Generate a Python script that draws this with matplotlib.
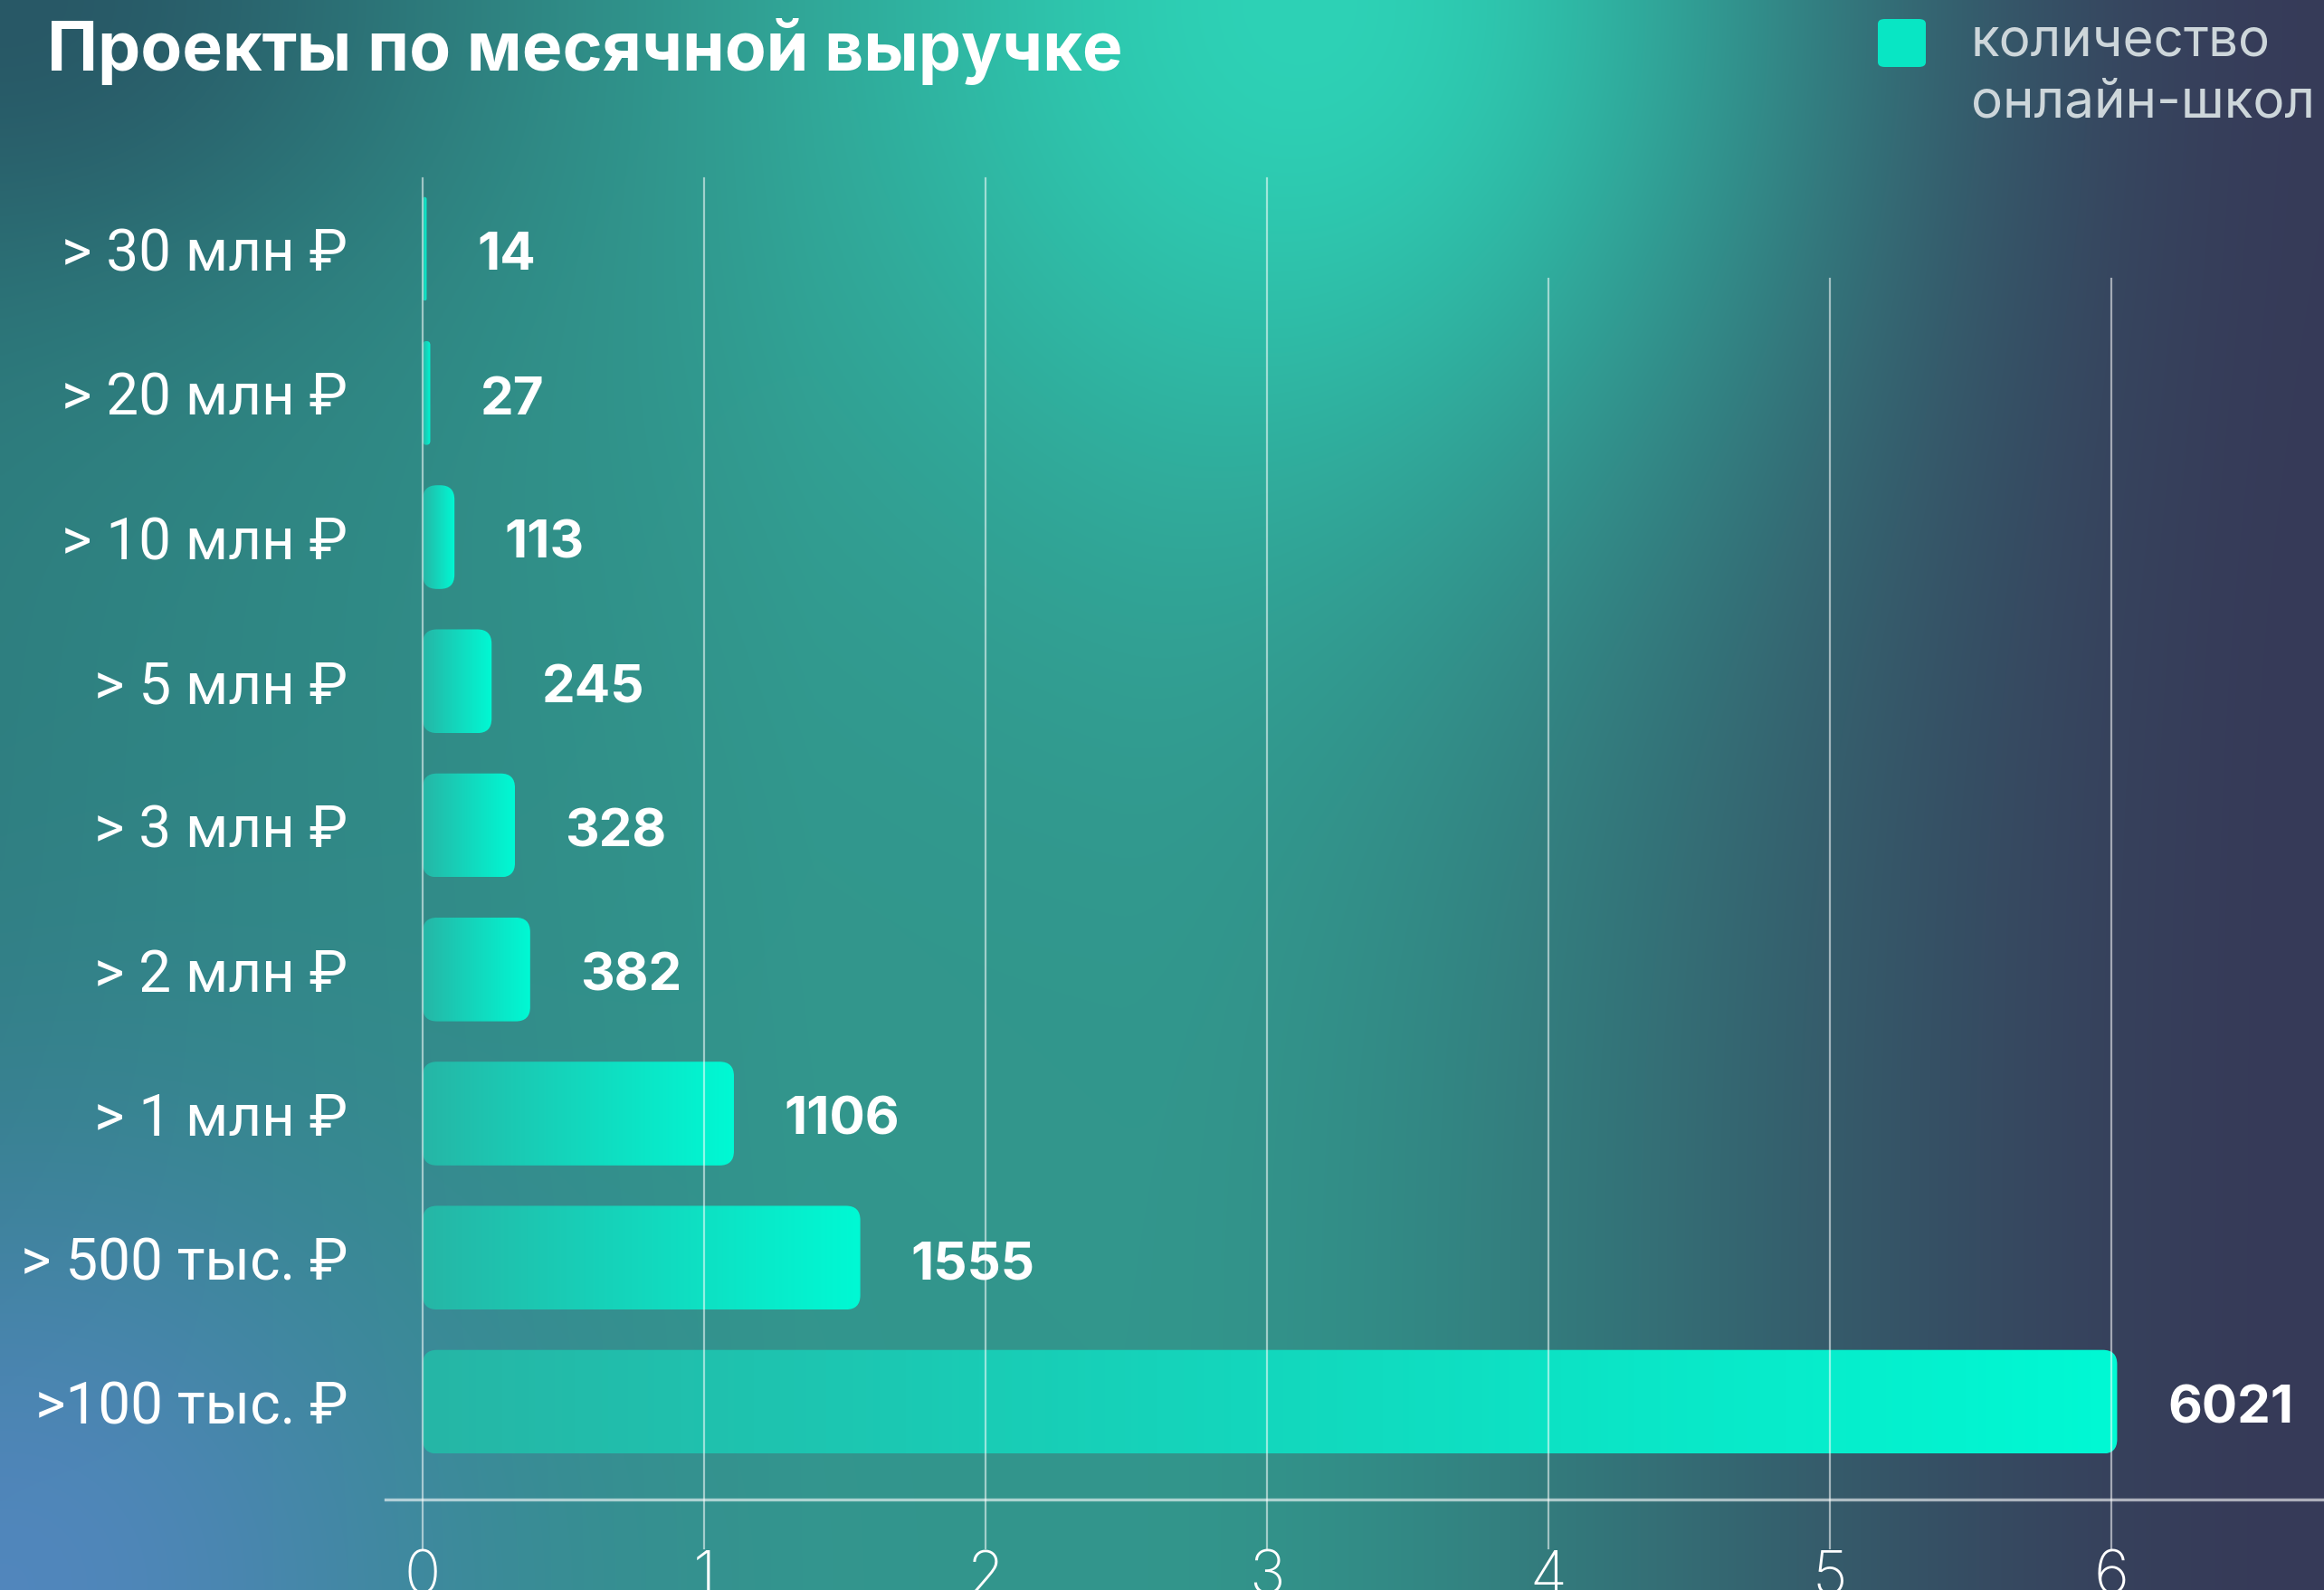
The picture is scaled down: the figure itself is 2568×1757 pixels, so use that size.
import numpy as np
import matplotlib.pyplot as plt
from matplotlib.colors import LinearSegmentedColormap
from matplotlib.patches import FancyBboxPatch

plt.rcParams['font.family'] = ['Inter', 'Noto Sans', 'DejaVu Sans']

# data (bottom to top)
categories = ['>100 тыс. ₽', '> 500 тыс. ₽', '> 1 млн ₽', '> 2 млн ₽', '> 3 млн ₽',
              '> 5 млн ₽', '> 10 млн ₽', '> 20 млн ₽', '> 30 млн ₽']
schools = [6021, 1555, 1106, 382, 328, 245, 113, 27, 14]
x_ticks = [0, 1000, 2000, 3000, 4000, 5000, 6000]
x_tick_labels = ['0', '1', '2', '3', '4', '5', '6']
title = 'Проекты по месячной выручке'
legend_label = 'количество\nонлайн-школ'

W, H = 2568, 1757
fig = plt.figure(figsize=(W / 200, H / 200), dpi=200)

# background gradient
bg = fig.add_axes([0, 0, 1, 1], zorder=-10)
v, u = np.mgrid[0:1:300j, 0:1:440j]
teal = np.array([50, 150, 140]) / 255
navy = np.array([55, 58, 88]) / 255
t = np.clip((u - 0.48) / 0.52, 0, 1)
t = t * t * (3 - 2 * t)
img = teal * (1 - t[..., None]) + navy * t[..., None]


def blend(img, col, w):
    col = np.array(col) / 255
    return img * (1 - w[..., None]) + col * w[..., None]


img = blend(img, (42, 105, 115), np.clip(1 - u / 0.35, 0, 1) * 0.5)
img = blend(img, (45, 210, 182), np.exp(-((u - 0.56) / 0.2) ** 2 - (v / 0.32) ** 2))
img = blend(img, (40, 88, 102), np.exp(-(u ** 2 + v ** 2) / 0.18 ** 2))
img = blend(img, (85, 135, 195), 0.9 * np.exp(-(u / 0.2) ** 2 - ((1 - v) / 0.28) ** 2))
bg.imshow(img, extent=[0, 1, 0, 1], aspect='auto', interpolation='bicubic')
bg.axis('off')

# main axes
ax = fig.add_axes([426 / W, 100 / H, 1 - 426 / W, 1460 / H])
ax.set_facecolor('none')
ypos = np.arange(len(categories))
bars = ax.barh(ypos, schools, height=0.72, color='none')

bar_cmap = LinearSegmentedColormap.from_list('bar', ['#26b6a6', '#00f9d4'])
grad = np.linspace(0, 1, 256).reshape(1, -1)
asp = (1 / 159.2) / (1000 / 311)
for rect in bars:
    x0, y0, w, h = rect.get_x(), rect.get_y(), rect.get_width(), rect.get_height()
    r = min(51, w / 2)
    patch = FancyBboxPatch((x0, y0), w, h, boxstyle=f'round,pad=0,rounding_size={r}',
                           mutation_aspect=asp, facecolor='none', edgecolor='none',
                           transform=ax.transData)
    ax.add_patch(patch)
    im = ax.imshow(grad, cmap=bar_cmap, extent=[x0, x0 + w, y0, y0 + h],
                   aspect='auto', origin='lower', zorder=2)
    im.set_clip_path(patch)

for val, y in zip(schools, ypos):
    ax.annotate(str(val), (val, y), xytext=(20, -3), textcoords='offset points',
                va='center', ha='left', fontsize=21, fontweight='bold', color='white')

for xt in x_ticks:
    top = 1 if xt <= 3000 else 0.924
    ax.axvline(xt, ymin=-0.037, ymax=top, clip_on=False, color='white',
               alpha=0.55, lw=0.8, zorder=3)

ax.set_xlim(-132, 6756)
ax.set_ylim(-0.678, 8.49)
ax.set_xticks(x_ticks, x_tick_labels)
ax.set_yticks(ypos, categories)
ax.tick_params(axis='x', length=0, pad=20, labelsize=24, labelcolor='white')
ax.tick_params(axis='y', length=0, pad=15, labelsize=23, labelcolor='white')
for lab in ax.get_xticklabels():
    lab.set_fontweight('light')
for lab in ax.get_yticklabels():
    lab.set_family(['Roboto', 'Noto Sans', 'DejaVu Sans'])
    lab.set_y(lab.get_position()[1])
for s in ['top', 'right', 'left']:
    ax.spines[s].set_visible(False)
ax.spines['bottom'].set_color((1, 1, 1, 0.6))
ax.spines['bottom'].set_linewidth(1.2)

# title
fig.text(52 / W, 1 - 57 / H, title, fontsize=27, fontweight='bold', color='white',
         va='center', ha='left')

# legend
fig.add_artist(FancyBboxPatch((2075 / W, 1 - 74 / H), 53 / W, 53 / H,
                              boxstyle='round,pad=0,rounding_size=0.003',
                              transform=fig.transFigure, facecolor='#08e6c4',
                              edgecolor='none'))
for i, line in enumerate(legend_label.split('\n')):
    fig.text(2178 / W, 1 - (46 + 69 * i) / H, line, fontsize=21, color='#cdd6da',
             va='center', ha='left')

fig.savefig('out.png', dpi=200)
